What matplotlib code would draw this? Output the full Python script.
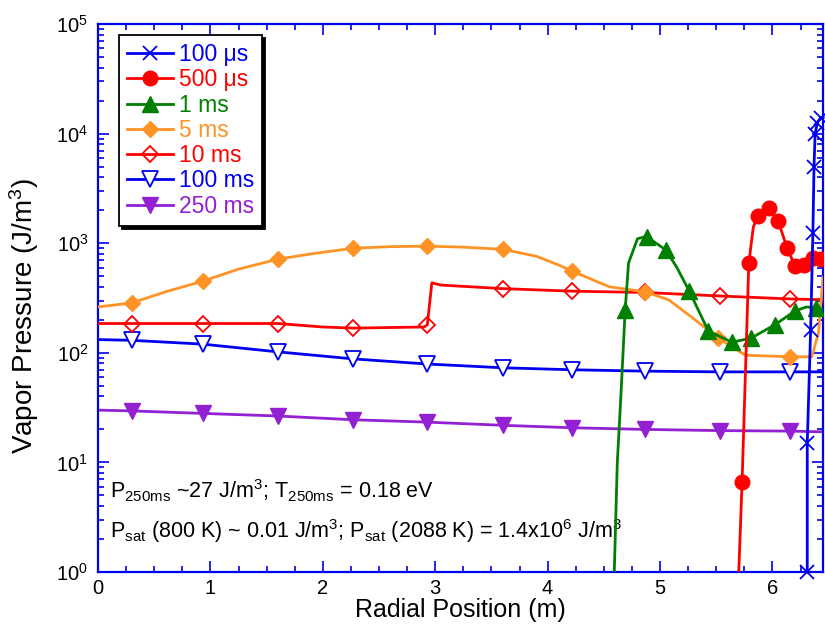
import matplotlib
matplotlib.use("Agg")
import matplotlib.pyplot as plt
from matplotlib.ticker import LogLocator, MultipleLocator, NullFormatter

plt.rcParams['font.family'] = ['Liberation Sans', 'DejaVu Sans']
plt.rcParams['mathtext.fontset'] = 'custom'
plt.rcParams['mathtext.rm'] = 'Liberation Sans'
plt.rcParams['mathtext.it'] = 'Liberation Sans'
plt.rcParams['mathtext.default'] = 'regular'

# ---- data (radial position in m, vapor pressure in J/m3)
x_100us = [6.31, 6.31, 6.34, 6.36, 6.37, 6.38, 6.40, 6.43, 6.45]
y_100us = [1.0, 15, 162, 1240, 5000, 10000, 12600, 14000, 14000]

x_500us = [5.69, 5.73, 5.79, 5.83, 5.87, 5.97, 6.05, 6.13, 6.20, 6.28, 6.36, 6.43, 6.45]
y_500us = [0.5, 6.6, 660, 1400, 1780, 2090, 1600, 910, 620, 630, 730, 720, 700]

x_1ms = [4.585, 4.62, 4.65, 4.69, 4.72, 4.80, 4.88, 5.05, 5.15, 5.26, 5.43, 5.64, 5.81, 6.02, 6.20, 6.30, 6.39, 6.45]
y_1ms = [0.5, 10, 37, 245, 660, 1100, 1150, 870, 600, 366, 158, 125, 136, 180, 240, 262, 257, 250]

x_5ms = [0, 0.3, 0.6, 0.93, 1.25, 1.6, 1.9, 2.27, 2.6, 2.93, 3.25, 3.6, 3.9, 4.1, 4.22,
         4.55, 4.87, 5.08, 5.28, 5.52, 5.76, 6.16, 6.35, 6.41, 6.45]
y_5ms = [262, 285, 360, 450, 580, 715, 800, 900, 930, 940, 920, 880, 760, 632, 555,
         400, 360, 303, 212, 136, 95, 92, 92, 152, 490]

x_10ms = [0, 0.3, 0.93, 1.6, 2.0, 2.27, 2.9, 2.93, 2.97, 3.05, 3.6, 4.22, 4.87, 5.53, 6.16, 6.45]
y_10ms = [185, 185, 185, 185, 172, 168, 172, 180, 435, 415, 385, 365, 355, 330, 310, 305]

x_100ms = [0, 0.3, 0.93, 1.6, 2.27, 2.93, 3.6, 4.22, 4.87, 5.53, 6.16, 6.45]
y_100ms = [132, 130, 120, 102, 88, 79, 73, 70, 68, 67, 67, 67]

x_250ms = [0, 0.3, 0.93, 1.6, 2.27, 2.93, 3.6, 4.22, 4.87, 5.53, 6.16, 6.45]
y_250ms = [30, 29.5, 28, 26.5, 24.5, 23.3, 21.8, 20.7, 20, 19.5, 19.3, 19]

labels = ['100 μs', '500 μs', '1 ms', '5 ms', '10 ms', '100 ms', '250 ms']

blue = '#0000f0'
red = '#ff0000'
green = '#008000'
orange = '#ff9326'
purple = '#9420d4'

fig = plt.figure(figsize=(8.25, 6.28), dpi=100)
ax = fig.add_axes([98/825, 1 - 572/628, 725/825, 548/628])

lw = 2
ax.plot(x_250ms, y_250ms, color=purple, lw=lw, marker='v', ms=11,
        markevery=list(range(1, 11)), label=labels[6], zorder=2)
ax.plot(x_100ms, y_100ms, color=blue, lw=lw, marker='v', ms=11, mfc='white', mew=1.3,
        markevery=list(range(1, 11)), label=labels[5], zorder=2)
ax.plot(x_10ms, y_10ms, color=red, lw=lw, marker='D', ms=8, mfc='none', mew=1.3,
        markevery=[1, 2, 3, 5, 7, 10, 11, 12, 13, 14], label=labels[4], zorder=3)
ax.plot(x_5ms, y_5ms, color=orange, lw=lw, marker='D', ms=8,
        markevery=[1, 3, 5, 7, 9, 11, 14, 16, 19, 21], label=labels[3], zorder=3)
ax.plot(x_1ms, y_1ms, color=green, lw=lw, marker='^', ms=11.5,
        markevery=[3, 6, 7, 9, 10, 11, 12, 13, 14, 16], label=labels[2], zorder=4)
ax.plot(x_500us, y_500us, color=red, lw=lw, marker='o', ms=10.5,
        markevery=[1, 2, 4, 5, 6, 7, 8, 9, 10, 11], label=labels[1], zorder=5)
ax.plot(x_100us, y_100us, color=blue, lw=lw, marker='x', ms=10, mew=1.3,
        markevery=list(range(0, 8)), label=labels[0], zorder=6, clip_on=False)

ax.set_yscale('log')
ax.set_xlim(0, 6.45)
ax.set_ylim(1, 1e5)
ax.xaxis.set_major_locator(MultipleLocator(1))
ax.xaxis.set_minor_locator(MultipleLocator(0.25))
ax.yaxis.set_major_locator(LogLocator(base=10, numticks=10))
ax.yaxis.set_minor_locator(LogLocator(base=10, subs=range(2, 10), numticks=20))
ax.yaxis.set_minor_formatter(NullFormatter())

for s in ax.spines.values():
    s.set_color(blue)
    s.set_linewidth(1.6)
ax.tick_params(which='both', direction='in', top=True, right=True, color=blue,
               labelsize=14.5, width=1.2)
ax.tick_params(which='major', length=8)
ax.tick_params(which='minor', length=4)
ax.tick_params(axis='x', which='major', pad=5)
ax.tick_params(axis='y', which='major', pad=7)

ax.set_xlabel('Radial Position (m)', fontsize=18, labelpad=0)
ax.set_ylabel('Vapor Pressure (J/m$^3$)', fontsize=20)
ax.yaxis.set_label_coords(-0.078, 0.467)

ax.text(0.016, 0.148, r'P$_{250ms}$ ~27 J/m$^3$; T$_{250ms}$ = 0.18 eV',
        transform=ax.transAxes, fontsize=15.5, va='center')
ax.text(0.016, 0.074, r'P$_{sat}$ (800 K) ~ 0.01 J/m$^3$; P$_{sat}$ (2088 K) = 1.4x10$^6$ J/m$^3$',
        transform=ax.transAxes, fontsize=15.5, va='center')

handles, labs = ax.get_legend_handles_labels()
handles = handles[::-1]
labs = labs[::-1]
leg = ax.legend(handles, labs, loc='upper left', bbox_to_anchor=(0.029, 0.98),
                borderaxespad=0, fontsize=16.5, handlelength=2.0, handletextpad=0.25,
                labelspacing=0.1, borderpad=0.35, fancybox=False, framealpha=1,
                edgecolor='black', shadow={'color': 'black', 'alpha': 1})
leg.get_frame().set_linewidth(1.3)
for txt, h in zip(leg.get_texts(), handles):
    txt.set_color(h.get_color())

fig.savefig('out.png', dpi=100)
